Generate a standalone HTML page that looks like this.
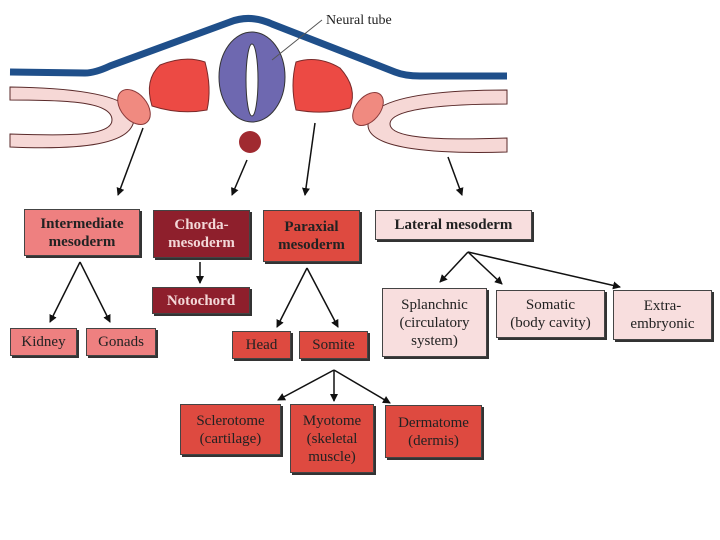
<!DOCTYPE html>
<html><head><style>
body{margin:0;width:720px;height:540px;background:#fff;position:relative;overflow:hidden;font-family:"Liberation Serif",serif}
.b{position:absolute;box-sizing:border-box;border:1px solid #444;box-shadow:2px 2px 0 #333;display:flex;align-items:center;justify-content:center;text-align:center;font-size:15px;line-height:18px;color:#222}
.bold{font-weight:bold;font-size:15px}
.lp{background:#ee8080}.dr{background:#8e1f2c;color:#f3d8d8}.rd{background:#de4a40}.pk{background:#f8dede}
svg{position:absolute;left:0;top:0}
</style></head><body>
<svg width="720" height="540">
<defs><marker id="a" markerWidth="8" markerHeight="8" refX="7" refY="4" orient="auto" markerUnits="userSpaceOnUse"><path d="M0,0 L8,4 L0,8 z" fill="#111"/></marker></defs>
<path d="M10,72 L85,73 Q95,73 110,66 L230,22 Q250,14 272,24 L395,72 Q405,76 420,76 L507,76" stroke="#1f4f8a" stroke-width="7" fill="none"/>
<path d="M10,87 C80,88 133,96 134,118 C134,145 80,150 10,147 L10,134 C70,136 112,136 112,120 C112,102 70,100 10,100 Z" fill="#f6d8d6" stroke="#5a2a2a" stroke-width="1"/>
<path d="M507,90 C440,90 368,96 368,125 C368,150 440,154 507,152 L507,138 C450,140 390,140 390,124 C390,108 450,104 507,104 Z" fill="#f6d8d6" stroke="#5a2a2a" stroke-width="1"/>
<ellipse cx="134" cy="107" rx="13" ry="20" transform="rotate(-40 134 107)" fill="#f08a80" stroke="#8a3a3a" stroke-width="1"/>
<ellipse cx="368" cy="109" rx="12" ry="19" transform="rotate(40 368 109)" fill="#f08a80" stroke="#8a3a3a" stroke-width="1"/>
<path d="M160,65 Q185,55 205,62 Q212,88 207,110 Q180,115 152,106 Q144,80 160,65 Z" fill="#ec4a44" stroke="#7a2a2a" stroke-width="1"/>
<path d="M296,62 Q318,55 340,68 Q358,88 350,108 Q325,115 296,110 Q290,85 296,62 Z" fill="#ec4a44" stroke="#7a2a2a" stroke-width="1"/>
<ellipse cx="252" cy="77" rx="33" ry="45" fill="#6e68b0" stroke="#333" stroke-width="1"/>
<ellipse cx="252" cy="80" rx="6" ry="36" fill="#fff" stroke="#333" stroke-width="1"/>
<circle cx="250" cy="142" r="11" fill="#a02a30"/>
<line x1="322" y1="20" x2="272" y2="60" stroke="#555" stroke-width="1"/>
<text x="326" y="24" font-family="Liberation Serif" font-size="14" fill="#222">Neural tube</text>
<g stroke="#111" stroke-width="1.5" marker-end="url(#a)">
<line x1="143" y1="128" x2="118" y2="195"/>
<line x1="247" y1="160" x2="232" y2="195"/>
<line x1="315" y1="123" x2="305" y2="195"/>
<line x1="448" y1="157" x2="462" y2="195"/>
<line x1="80" y1="262" x2="50" y2="322"/><line x1="80" y1="262" x2="110" y2="322"/>
<line x1="200" y1="262" x2="200" y2="283"/>
<line x1="307" y1="268" x2="277" y2="327"/><line x1="307" y1="268" x2="338" y2="327"/>
<line x1="468" y1="252" x2="440" y2="282"/><line x1="468" y1="252" x2="502" y2="284"/><line x1="468" y1="252" x2="620" y2="287"/>
<line x1="334" y1="370" x2="278" y2="400"/><line x1="334" y1="370" x2="334" y2="401"/><line x1="334" y1="370" x2="390" y2="403"/>
</g>
</svg>
<div class="b lp bold" style="left:24px;top:209px;width:116px;height:47px">Intermediate<br>mesoderm</div>
<div class="b dr bold" style="left:153px;top:210px;width:97px;height:48px">Chorda-<br>mesoderm</div>
<div class="b rd bold" style="left:263px;top:210px;width:97px;height:52px">Paraxial<br>mesoderm</div>
<div class="b pk bold" style="left:375px;top:210px;width:157px;height:30px">Lateral mesoderm</div>
<div class="b dr bold" style="left:152px;top:287px;width:98px;height:27px">Notochord</div>
<div class="b lp" style="left:10px;top:328px;width:67px;height:28px">Kidney</div>
<div class="b lp" style="left:86px;top:328px;width:70px;height:28px">Gonads</div>
<div class="b rd" style="left:232px;top:331px;width:59px;height:28px">Head</div>
<div class="b rd" style="left:299px;top:331px;width:69px;height:28px">Somite</div>
<div class="b pk" style="left:382px;top:288px;width:105px;height:69px">Splanchnic<br>(circulatory<br>system)</div>
<div class="b pk" style="left:496px;top:290px;width:109px;height:48px">Somatic<br>(body cavity)</div>
<div class="b pk" style="left:613px;top:290px;width:99px;height:50px">Extra-<br>embryonic</div>
<div class="b rd" style="left:180px;top:404px;width:101px;height:51px">Sclerotome<br>(cartilage)</div>
<div class="b rd" style="left:290px;top:404px;width:84px;height:69px">Myotome<br>(skeletal<br>muscle)</div>
<div class="b rd" style="left:385px;top:405px;width:97px;height:53px">Dermatome<br>(dermis)</div>
</body></html>
